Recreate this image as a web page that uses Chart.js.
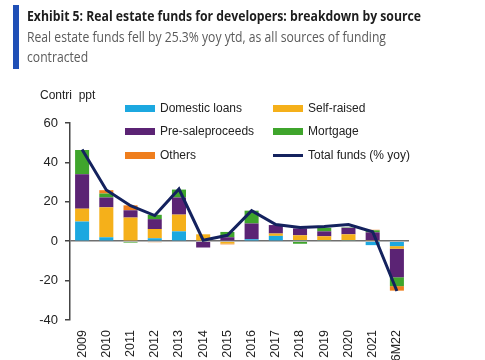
<!DOCTYPE html>
<html>
<head>
<meta charset="utf-8">
<script src="https://cdn.jsdelivr.net/npm/chart.js@4"></script>
<style>
  html, body { margin: 0; padding: 0; background: #fff; }
  body { width: 485px; height: 360px; overflow: hidden; position: relative; font-family: "Liberation Sans", Arial, sans-serif; }
  #wrap { position: absolute; left: 0; top: 0; width: 485px; height: 360px; }
  .bar-accent { position: absolute; left: 13px; top: 5px; width: 6px; height: 64px; background: #1f4fb6; }
  .title { position: absolute; left: 27px; top: 6px; font-family: "Open Sans", sans-serif; font-weight: 700; font-size: 14px; color: #1d1d1d; white-space: nowrap; transform-origin: left top; transform: scaleX(0.873); }
  .sub { position: absolute; left: 27px; top: 27px; font-family: "Open Sans", sans-serif; font-size: 14px; line-height: 20px; color: #5b5b5b; white-space: nowrap; transform-origin: left top; transform: scaleX(0.869); }
  .unit { position: absolute; left: 40px; top: 88px; font-size: 12px; color: #222; white-space: pre; }
  .leg { position: absolute; font-size: 12px; color: #222; white-space: nowrap; }
  .leg i { position: absolute; left: 0; width: 30px; }
  .leg span { position: absolute; left: 35px; top: -7px; }
</style>
</head>
<body>
<div id="wrap"><canvas id="chart"></canvas></div>
<div class="bar-accent"></div>
<div class="title">Exhibit 5: Real estate funds for developers: breakdown by source</div>
<div class="sub">Real estate funds fell by 25.3% yoy ytd, as all sources of funding<br>contracted</div>
<div class="unit">Contri  ppt</div>
<div id="legend"></div>
<script>
const categories = ["2009", "2010", "2011", "2012", "2013", "2014", "2015", "2016", "2017", "2018", "2019", "2020", "2021", "6M22"];
const yTicks = [-40, -20, 0, 20, 40, 60];

const domesticLoans = [10, 2, 0, 1.5, 5, 0, 0, 1, 2.7, 0.5, 0.5, 0.5, -2, -2.5];
const selfRaised = [6.5, 15.2, 12, 4.7, 8.5, 3.5, -1.2, 0, 1.2, 2.5, 2, 3, 0.5, -1.3];
const presaleProceeds = [17.5, 5, 3.7, 5, 8.7, -3.2, 2, 8, 4.3, 3.5, 2.5, 3.3, 4, -14.5];
const mortgage = [12.3, 2, -0.7, 2.2, 4, 0, 2.7, 6.5, 0, -1.3, 1.8, 0.2, 1, -4.5];
const others = [0, 1.7, 2.5, -0.5, 0, 0, -0.4, 0, 0, 0, 0, 0, 0.3, -2.3];
const totalFunds = [46.5, 26, 18, 13, 26.5, 0.5, 3, 15.5, 8.5, 7, 7.5, 8.5, 4.8, -25.3];

const barSeries = [
  { label: "Domestic loans", data: domesticLoans, color: "#1ca8e0" },
  { label: "Self-raised", data: selfRaised, color: "#f5b01a" },
  { label: "Pre-saleproceeds", data: presaleProceeds, color: "#5b2374" },
  { label: "Mortgage", data: mortgage, color: "#3fa52c" },
  { label: "Others", data: others, color: "#ef7e1d" }
];
const lineSeries = { label: "Total funds (% yoy)", data: totalFunds, color: "#14225e" };

// legend, two columns x three rows, laid out as in the original
const legendOrder = [
  [barSeries[0], 125, 108], [barSeries[2], 125, 131], [barSeries[4], 125, 155],
  [barSeries[1], 273, 108], [barSeries[3], 273, 131], [lineSeries, 273, 155, true]
];
const legendEl = document.getElementById("legend");
legendOrder.forEach(([s, x, y, isLine]) => {
  const d = document.createElement("div");
  d.className = "leg";
  d.style.left = x + "px";
  d.style.top = y + "px";
  const sw = document.createElement("i");
  sw.style.background = s.color;
  sw.style.height = isLine ? "3px" : "7px";
  sw.style.top = isLine ? "-1px" : "-3px";
  const t = document.createElement("span");
  t.textContent = s.label;
  d.appendChild(sw);
  d.appendChild(t);
  legendEl.appendChild(d);
});

const ctx = document.getElementById("chart").getContext("2d");
new Chart(ctx, {
  data: {
    labels: categories,
    datasets: [
      {
        type: "line",
        label: lineSeries.label,
        data: lineSeries.data,
        borderColor: lineSeries.color,
        borderWidth: 3,
        pointRadius: 0,
        tension: 0,
        stack: "total",
        order: 0
      },
      ...barSeries.map(s => ({
        type: "bar",
        label: s.label,
        data: s.data,
        backgroundColor: s.color,
        borderWidth: 0,
        stack: "sources",
        barPercentage: 0.58,
        categoryPercentage: 1,
        order: 1
      }))
    ]
  },
  options: {
    responsive: true,
    maintainAspectRatio: false,
    animation: false,
    layout: { padding: { top: 123, left: 0, right: 76, bottom: 0 } },
    plugins: { legend: { display: false }, tooltip: { enabled: false } },
    scales: {
      x: {
        stacked: true,
        grid: { display: false },
        border: { display: false },
        ticks: {
          minRotation: 90, maxRotation: 90, padding: 2,
          color: "#222", font: { family: "Liberation Sans", size: 12.5 }
        },
        afterFit: scale => { scale.height = 40; }
      },
      y: {
        stacked: true,
        min: -40, max: 60,
        afterBuildTicks: scale => { scale.ticks = yTicks.map(v => ({ value: v })); },
        grid: {
          drawOnChartArea: true,
          drawTicks: true,
          tickLength: 5,
          tickColor: "#444",
          lineWidth: 1.5,
          color: c => (c.tick && c.tick.value === 0 ? "#6f6f6f" : "rgba(0,0,0,0)")
        },
        border: { display: true, color: "#444", width: 1.5 },
        ticks: { padding: 7, color: "#222", font: { family: "Liberation Sans", size: 13 } },
        afterFit: scale => { scale.width = 70; }
      }
    }
  }
});
</script>
</body>
</html>
